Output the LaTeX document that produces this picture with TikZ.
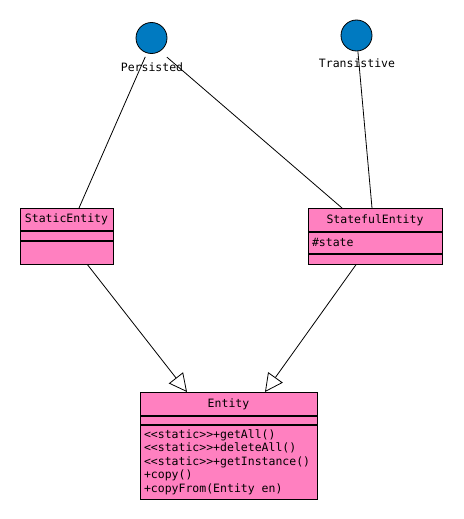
\documentclass[tikz,border=0pt]{standalone}
\usepackage{fontspec}
\newfontfamily\umlfont{DejaVu Sans Mono}
\usetikzlibrary{arrows.meta, positioning}
\definecolor{umlpink}{RGB}{255,128,192}
\definecolor{umlblue}{RGB}{0,122,193}

\begin{document}
\begin{tikzpicture}[x=1pt, y=-1pt,
  classtitle/.style={draw, line width=0.9pt, fill=umlpink, inner sep=0pt,
                     anchor=north, font=\umlfont\fontsize{11.5}{13.5}\selectfont},
  classpart/.style={draw, line width=0.9pt, fill=umlpink, inner xsep=4pt,
                    inner ysep=0pt, anchor=north, align=left,
                    font=\umlfont\fontsize{11.5}{13.5}\selectfont},
  stateball/.style={circle, draw, line width=0.8pt, fill=umlblue,
                    minimum size=31pt, inner sep=0pt},
  statelabel/.style={font=\umlfont\fontsize{11.5}{13.5}\selectfont, inner sep=1pt},
  assoc/.style={line width=0.8pt},
  inherit/.style={line width=0.8pt, -{Triangle[open, length=18pt, width=18pt]}},
]
  \useasboundingbox (0,0) rectangle (463,519);

  % States
  \node[stateball] (persisted) at (151.5,38) {};
  \node[statelabel] (persisted-lbl) at (152,67) {Persisted};
  \node[stateball] (transistive) at (356.5,35.5) {};
  \node[statelabel] (transistive-lbl) at (357,63) {Transistive};

  % StaticEntity
  \node[classtitle, minimum width=93pt, minimum height=22pt] at (66.5,208) (static) {StaticEntity};
  \node[classpart, below=0pt of static, minimum width=93pt, minimum height=9pt] (static-attr) {};
  \node[classpart, below=0pt of static-attr, minimum width=93pt, minimum height=23pt] (static-ops) {};

  % StatefulEntity
  \node[classtitle, minimum width=134pt, minimum height=23pt] at (375,208) (stateful) {StatefulEntity};
  \node[classpart, below=0pt of stateful, text width=126pt, minimum height=21pt] (stateful-attr) {\#state};
  \node[classpart, below=0pt of stateful-attr, minimum width=134pt, minimum height=10pt] (stateful-ops) {};

  % Entity
  \node[classtitle, minimum width=177pt, minimum height=23pt] at (228.5,392) (entity) {Entity};
  \node[classpart, below=0pt of entity, minimum width=177pt, minimum height=8pt] (entity-attr) {};
  \node[classpart, below=0pt of entity-attr, text width=169pt, minimum height=74pt] (entity-ops)
    {<{}<static>{}>+getAll()\\
     <{}<static>{}>+deleteAll()\\
     <{}<static>{}>+getInstance()\\
     +copy()\\
     +copyFrom(Entity\hspace{0.602em}en)};

  % Associations
  \draw[assoc, shorten <=4pt] (persisted.253) -- ([xshift=12.5pt]static.north);
  \draw[assoc, shorten <=9pt] (persisted.303) -- ([xshift=-33pt]stateful.north);
  \draw[assoc] (transistive.275) -- ([xshift=-3pt]stateful.north);

  % Generalizations
  \draw[inherit] ([xshift=21pt]static-ops.south) -- ([xshift=-41.5pt]entity.north);
  \draw[inherit] ([xshift=-19pt]stateful-ops.south) -- ([xshift=36.5pt]entity.north);
\end{tikzpicture}
\end{document}
